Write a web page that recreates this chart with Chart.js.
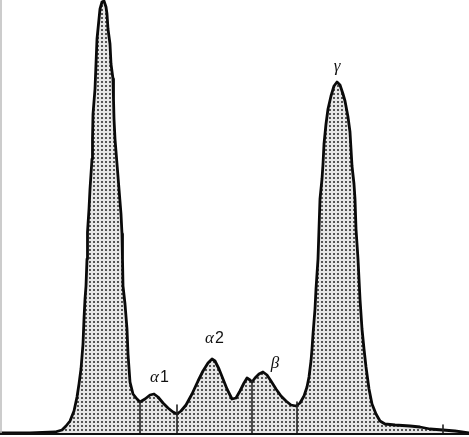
<!DOCTYPE html>
<html>
<head>
<meta charset="utf-8">
<script src="https://cdn.jsdelivr.net/npm/chart.js@4.4.1/dist/chart.umd.min.js"></script>
<style>
html,body{margin:0;padding:0;background:#fff;}
#wrap{width:469px;height:437px;position:relative;}
</style>
</head>
<body>
<div id="wrap"><canvas id="c" width="469" height="437"></canvas></div>
<script>
// Migration position (arbitrary units) and optical density (arbitrary units)
const position = [0,30,55,62,66,70,74,77,79,81,83,84,85,86,87,87.5,89,90,92,92.5,93,95,96,97,99,100,102,104,106,107,108,110,111,113,113.5,114,115,117,119,121,122,122.5,123,125,127,128,130,133,137,140,145,150,154,158,163,168,173,177,181,186,192,198,203,208,212,215,219,223,227,232,236,240,244,247,250,252,255,259,263,267,271,276,281,286,291,296,300,304,307,309,311,312,313,315,316,318,319,320,322,323,324,326,328,331,334,337,340,343,345,348,350,351,352,354,355,356,358,360,362,364,366,369,372,376,380,385,395,410,420,430,443,455,469];
const density = [0,0,1,3,7,12,22,36,49,64,89,114,134,147,174,201,224,244,274,294,319,344,369,394,414,424,431,432,426,419,404,389,369,354,334,314,294,269,244,219,199,174,147,129,104,79,51,39,34,31,34,38,39,36,30,25,21,19,22,28,39,52,62,70,74,72,64,54,44,34,35,42,50,55,53,51,55,59,61,58,52,44,37,32,28,27,30,37,46,56,72,84,99,124,144,174,204,234,254,269,289,309,324,337,347,351,348,339,332,316,301,284,267,249,234,204,174,134,104,84,66,44,29,19,12,9,8,7,6,4,3,2,0];

// Fraction boundaries (position) and the density where each boundary mark starts
const boundaryPos = [140,177,252,297,443];
const boundaryTop = [31,28,52,31,8];

// Fraction labels
const fractionGreek = ['α','α','β','γ'];
const fractionSuffix = ['1','2','',''];
const labelPos = [159,214,275,337];
const labelDensity = [55,94,69,366];

const ctx = document.getElementById('c').getContext('2d');

// dotted fill pattern
const pc = document.createElement('canvas');
pc.width = 4; pc.height = 4;
const p = pc.getContext('2d');
p.fillStyle = '#e6e6e6'; p.fillRect(0,0,4,4);
p.fillStyle = '#555'; p.fillRect(1,1,2,2);
const pattern = ctx.createPattern(pc,'repeat');

const curve = position.map((x,i)=>({x:x,y:density[i]}));
const datasets = [{
  data: curve,
  borderColor:'#0a0a0a',
  borderWidth:2.8,
  backgroundColor: pattern,
  fill:'origin',
  pointRadius:0,
  tension:0,
  order:2
}];
boundaryPos.forEach((x,i)=>{
  datasets.push({
    data:[{x:x,y:0},{x:x,y:boundaryTop[i]}],
    borderColor:'#222', borderWidth:1.6, pointRadius:0, fill:false, order:1
  });
});

const labelPlugin = {
  id:'fractionLabels',
  afterDatasetsDraw(chart){
    const c = chart.ctx, xs = chart.scales.x, ys = chart.scales.y;
    c.save();
    c.fillStyle = '#111';
    c.textBaseline = 'middle';
    const gFont = 'italic 17px "Liberation Serif", "DejaVu Serif", serif';
    const dFont = '16px "Liberation Sans", Arial, sans-serif';
    fractionGreek.forEach((g,i)=>{
      const px = xs.getPixelForValue(labelPos[i]);
      const py = ys.getPixelForValue(labelDensity[i]);
      c.font = gFont;
      const gw = c.measureText(g).width;
      c.font = dFont;
      const sw = fractionSuffix[i] ? c.measureText(fractionSuffix[i]).width : 0;
      const sx = px - (gw+sw)/2;
      c.font = gFont;
      c.textAlign = 'left';
      c.fillText(g, sx, py);
      if (fractionSuffix[i]) {
        c.font = dFont;
        c.fillText(fractionSuffix[i], sx+gw+1, py);
      }
    });
    // baseline
    c.strokeStyle = '#111'; c.lineWidth = 2;
    const by = ys.getPixelForValue(0);
    c.beginPath(); c.moveTo(chart.chartArea.left, by+1); c.lineTo(chart.chartArea.right, by+1); c.stroke();
    // left border
    c.strokeStyle = '#bbb'; c.lineWidth = 1.5;
    c.beginPath(); c.moveTo(1, 0); c.lineTo(1, by); c.stroke();
    c.restore();
  }
};

new Chart(ctx,{
  type:'line',
  data:{datasets:datasets},
  options:{
    responsive:false,
    animation:false,
    layout:{padding:{left:0,right:0,top:0,bottom:4}},
    plugins:{legend:{display:false},tooltip:{enabled:false}},
    elements:{line:{borderJoinStyle:'round',borderCapStyle:'round'}},
    scales:{
      x:{type:'linear',min:0,max:469,display:false},
      y:{type:'linear',min:0,max:433,display:false}
    }
  },
  plugins:[labelPlugin]
});
</script>
</body>
</html>
